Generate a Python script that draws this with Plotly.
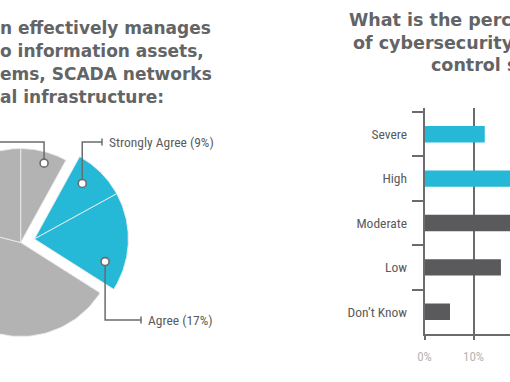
import numpy as np
import plotly.graph_objects as go

# ---------------- data ----------------
pie_labels = ["Strongly Disagree", "Strongly Agree", "Agree", "Neutral", "Disagree"]
pie_values = [8, 9, 17, 45, 21]          # clockwise from 12 o'clock
pie_highlight = [False, True, True, False, False]
pie_callout_labels = ["Strongly Disagree (8%)", "Strongly Agree (9%)", "Agree (17%)", None, None]

bar_categories = ["Severe", "High", "Moderate", "Low", "Don\u2019t Know"]
bar_values = [12.3, 28, 40, 15.6, 5.2]
bar_highlight = [True, True, False, False, False]

# visible (cropped) parts of the titles
left_title = ["n effectively manages",
              "o information assets,",
              "ems, SCADA networks",
              "al infrastructure:"]
right_title = ["What is the perceived level",
               "of cybersecurity risk to industrial",
               "control systems?"]

# ---------------- style ----------------
W, H = 510, 382
BLUE = "#25b9d7"
GRAY = "#b3b3b3"
DARK = "#5a5a5c"
LINE = "#6a6b6d"
TITLE_C = "#636466"
NARROW = "Roboto Condensed, Open Sans Condensed, Liberation Sans Narrow, Roboto, sans-serif"
BOLD = "DejaVu Sans, Arial, sans-serif"
LABEL_FONT = dict(family=NARROW, size=13.5, color=DARK)

# pie placement (pixels)
R_PX, CX, CY = 94.0, 20.7, 242.5
EXPLODE = 0.15

fig = go.Figure()

# ---------------- bar chart ----------------
fig.add_trace(go.Bar(
    x=bar_values, y=bar_categories, orientation="h",
    marker=dict(color=[BLUE if h else DARK for h in bar_highlight], line=dict(width=0)),
    width=0.37, xaxis="x", yaxis="y", hoverinfo="skip", showlegend=False))

# ---------------- pie (drawn in its own equal-scale axes) ----------------
tot = float(sum(pie_values))
cum = np.concatenate([[0.0], np.cumsum(pie_values)]) / tot * 360.0
hl_idx = [i for i, h in enumerate(pie_highlight) if h]
g_mid = np.radians((cum[hl_idx[0]] + cum[hl_idx[-1] + 1]) / 2.0)
g_off = (EXPLODE * np.sin(g_mid), EXPLODE * np.cos(g_mid))

for i, v in enumerate(pie_values):
    a0, a1 = cum[i], cum[i + 1]
    t = np.radians(np.linspace(a0, a1, 80))
    ox, oy = g_off if pie_highlight[i] else (0.0, 0.0)
    xs = np.concatenate([[ox], ox + np.sin(t), [ox]])
    ys = np.concatenate([[oy], oy + np.cos(t), [oy]])
    fig.add_trace(go.Scatter(
        x=xs, y=ys, mode="lines", fill="toself",
        fillcolor=BLUE if pie_highlight[i] else GRAY,
        line=dict(color="rgba(235,235,235,0.9)", width=1),
        xaxis="x2", yaxis="y2", hoverinfo="skip", showlegend=False))

# callouts: (slice index, position within slice, radius, elbow y px, end x px, text x px)
def px_to_pie(px, py):
    return (px - CX) / R_PX, (CY - py) / R_PX

callouts = [
    (0, 0.57, 0.88, 142, -40, None),
    (1, 0.37, 0.78, 142, 102, 107),
    (2, 0.76, 0.79, 320, 141, 146),
]
for idx, frac, rr, ely, endx, tx in callouts:
    a = np.radians(cum[idx] + frac * (cum[idx + 1] - cum[idx]))
    ox, oy = g_off if pie_highlight[idx] else (0.0, 0.0)
    mx, my = ox + rr * np.sin(a), oy + rr * np.cos(a)
    _, ey = px_to_pie(0, ely)
    ex, _ = px_to_pie(endx, 0)
    cap = 3.5 / R_PX
    fig.add_trace(go.Scatter(
        x=[mx, mx, ex, None, ex, ex], y=[my, ey, ey, None, ey - cap, ey + cap],
        mode="lines", line=dict(color=LINE, width=1.5),
        xaxis="x2", yaxis="y2", hoverinfo="skip", showlegend=False))
    fig.add_trace(go.Scatter(
        x=[mx], y=[my], mode="markers",
        marker=dict(size=8, color="white", line=dict(color=LINE, width=1.6)),
        xaxis="x2", yaxis="y2", hoverinfo="skip", showlegend=False))
    if tx is not None and pie_callout_labels[idx]:
        fig.add_annotation(x=tx / W, y=1 - ely / H, xref="paper", yref="paper",
                           text=pie_callout_labels[idx], showarrow=False,
                           xanchor="left", yanchor="middle", font=LABEL_FONT)

# ---------------- titles ----------------
left_ys = [28, 51, 74, 97]
for txt, yy in zip(left_title, left_ys):
    fig.add_annotation(x=-2.5 / W, y=1 - yy / H, xref="paper", yref="paper", text=txt,
                       showarrow=False, xanchor="left", yanchor="middle",
                       font=dict(family=BOLD, size=17, color=TITLE_C, weight="bold"))
right_starts = [347, 351, 429]
right_ys = [20, 43, 65]
for txt, xl, yy in zip(right_title, right_starts, right_ys):
    fig.add_annotation(x=xl / W, y=1 - yy / H, xref="paper", yref="paper", text=txt,
                       showarrow=False, xanchor="left", yanchor="middle",
                       font=dict(family=BOLD, size=17.5, color=TITLE_C, weight="bold"))

# ---------------- layout ----------------
X0_PX, TOP_PX, BOT_PX, PX_PER_PCT = 424.5, 108, 334, 4.9
cat_h = (BOT_PX - 112) / len(bar_categories)
top_ext = (112 - TOP_PX) / cat_h

fig.update_layout(
    width=W, height=H, margin=dict(l=0, r=0, t=0, b=0, pad=0, autoexpand=False),
    paper_bgcolor="white", plot_bgcolor="rgba(0,0,0,0)",
    showlegend=False,
    xaxis=dict(domain=[X0_PX / W, 1.0], range=[0, (W - X0_PX) / PX_PER_PCT],
               dtick=10, ticksuffix="%", showgrid=True, gridcolor=LINE, gridwidth=1.5,
               zeroline=False, showline=True, linecolor=LINE, linewidth=1.5,
               ticks="outside", ticklen=4, tickwidth=1.5, tickcolor=LINE,
               ticklabelstandoff=6,
               tickfont=dict(family=NARROW, size=13, color="#b5b5b5"),
               fixedrange=True, anchor="y", automargin=False),
    yaxis=dict(domain=[(H - BOT_PX) / H, (H - TOP_PX) / H], type="category",
               categoryorder="array", categoryarray=bar_categories,
               range=[len(bar_categories) - 0.5, -0.5 - top_ext],
               tickson="boundaries", ticks="outside", ticklen=11, tickwidth=1.5,
               tickcolor=LINE, showline=True, linecolor=LINE, linewidth=1.5,
               showgrid=False, zeroline=False, ticklabelstandoff=13,
               tickfont=LABEL_FONT,
               fixedrange=True, anchor="x", automargin=False),
    xaxis2=dict(domain=[0, 1], range=[-CX / R_PX, (W - CX) / R_PX], visible=False,
                fixedrange=True, anchor="y2", automargin=False),
    yaxis2=dict(domain=[0, 1], range=[-(H - CY) / R_PX, CY / R_PX], visible=False,
                fixedrange=True, anchor="x2", automargin=False),
)

fig.write_html("out.html", config={"displayModeBar": False},
               post_script="document.body.style.margin='0';document.body.style.overflow='hidden';")
